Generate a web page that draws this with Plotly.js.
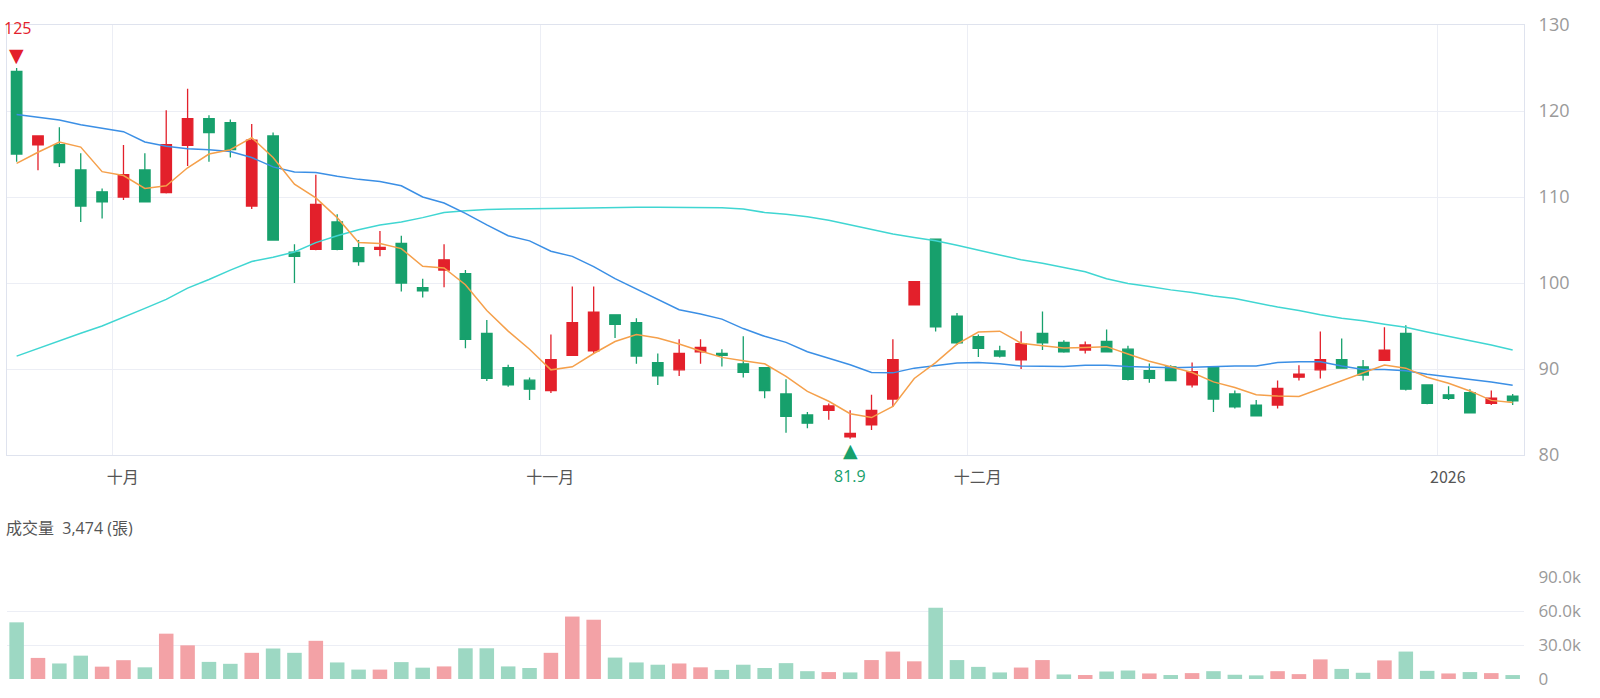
<!DOCTYPE html>
<html>
<head>
<meta charset="utf-8">
<script src="https://cdn.plot.ly/plotly-3.0.1.min.js"></script>
<style>
html,body{margin:0;padding:0;background:#ffffff;}
#chart{width:1600px;height:698px;}
</style>
</head>
<body>
<div id="chart"></div>
<script>
// ---- trading days (categories) ----
const dates = [
 '2025-09-23','2025-09-24','2025-09-25','2025-09-26','2025-09-30',
 '2025-10-01','2025-10-02','2025-10-03','2025-10-07','2025-10-08','2025-10-09','2025-10-13','2025-10-14','2025-10-15','2025-10-16',
 '2025-10-17','2025-10-20','2025-10-21','2025-10-22','2025-10-23','2025-10-27','2025-10-28','2025-10-29','2025-10-30','2025-10-31',
 '2025-11-03','2025-11-04','2025-11-05','2025-11-06','2025-11-07','2025-11-10','2025-11-11','2025-11-12','2025-11-13','2025-11-14',
 '2025-11-17','2025-11-18','2025-11-19','2025-11-20','2025-11-21','2025-11-24','2025-11-25','2025-11-26','2025-11-27','2025-11-28',
 '2025-12-01','2025-12-02','2025-12-03','2025-12-04','2025-12-05','2025-12-08','2025-12-09','2025-12-10','2025-12-11','2025-12-12',
 '2025-12-15','2025-12-16','2025-12-17','2025-12-18','2025-12-19','2025-12-22','2025-12-23','2025-12-24','2025-12-26','2025-12-29',
 '2025-12-30','2025-12-31','2026-01-02','2026-01-05','2026-01-06','2026-01-07'
];

// ---- OHLC ----
const open = [124.6,116.05,116.1,113.15,110.6,110.0,113.15,110.5,116.0,119.1,
 118.65,108.95,117.1,103.6,103.9,107.1,104.1,103.9,104.6,99.45,
 101.5,101.1,94.15,90.15,88.7,87.5,91.6,92.1,96.3,95.4,
 90.75,89.9,92.0,91.8,90.6,90.15,87.1,84.65,85.2,82.1,
 83.5,86.5,97.45,105.1,96.15,93.75,92.1,91.05,94.15,93.1,
 92.2,93.2,92.3,89.8,90.25,88.15,90.25,87.1,85.8,85.8,
 89.05,89.9,91.1,90.25,91.0,94.15,88.15,87.0,87.25,86.0,86.85];
const high = [125.0,117.1,118.1,115.1,111.0,116.05,115.1,120.1,122.6,119.5,
 119.0,118.5,117.5,104.5,112.6,108.0,105.0,106.05,105.5,100.5,
 104.5,101.5,95.7,90.5,89.0,94.0,99.6,99.6,96.3,95.9,
 91.8,93.45,93.45,92.3,93.8,90.2,88.8,85.0,86.0,85.2,
 87.0,93.45,100.15,105.1,96.5,94.0,92.7,94.4,96.7,93.35,
 93.2,94.6,92.7,90.65,90.45,90.75,90.3,87.5,86.4,88.65,
 90.45,94.35,93.55,91.05,94.85,95.1,88.15,88.0,87.65,87.5,87.1];
const low = [114.1,113.1,113.5,107.1,107.5,109.65,109.4,110.4,113.6,114.1,
 114.6,108.6,105.0,100.0,103.8,103.8,102.0,103.1,99.0,98.3,
 99.5,92.4,88.6,87.95,86.4,87.2,91.6,91.8,93.6,90.6,
 88.15,89.2,90.6,90.3,89.0,86.6,82.6,83.1,84.1,81.9,
 82.9,85.6,97.45,94.35,92.8,91.4,91.35,90.0,92.2,91.9,
 91.8,92.0,88.65,88.4,88.6,87.85,85.0,85.4,84.5,85.4,
 88.65,88.9,90.05,88.65,90.95,87.5,85.9,86.4,84.9,85.8,85.8];
const close = [115.0,117.1,114.0,108.95,109.45,112.6,109.45,116.1,119.1,117.5,
 115.5,116.6,105.0,103.1,109.15,103.9,102.5,104.15,100.0,99.1,
 102.7,93.45,88.9,88.15,87.65,91.1,95.4,96.6,95.2,91.5,
 89.2,91.8,92.5,91.6,89.6,87.5,84.5,83.7,85.7,82.5,
 85.2,91.1,100.15,94.9,93.05,92.4,91.5,92.95,93.05,92.0,
 92.8,92.0,88.8,88.9,88.65,89.7,86.5,85.6,84.55,87.75,
 89.4,91.1,90.1,89.3,92.2,87.65,86.0,86.6,84.9,86.6,86.3];

// ---- moving averages ----
const ma5 = [113.9,115.2,116.4,115.8,112.95,112.5,111.0,111.3,113.4,115.0,
 115.5,116.9,114.6,111.5,109.9,107.6,104.7,104.6,104.0,101.95,
 101.75,99.8,96.8,94.4,92.3,89.9,90.25,91.8,93.2,94.0,
 93.6,92.9,92.1,91.35,90.95,90.6,89.15,87.4,86.25,84.8,
 84.35,85.65,88.9,90.75,92.9,94.3,94.4,93.0,92.7,92.45,
 92.5,92.6,91.75,90.9,90.25,89.6,88.5,87.85,87.0,86.85,
 86.8,87.7,88.6,89.55,90.45,90.1,89.05,88.35,87.45,86.35,86.1];
const ma20 = [119.6,119.25,118.95,118.4,118.0,117.6,116.4,115.9,115.6,115.5,
 115.3,114.6,113.5,112.9,112.85,112.4,112.05,111.8,111.3,110.0,
 109.3,108.1,106.75,105.5,104.9,103.7,103.1,101.9,100.5,99.3,
 98.1,96.9,96.4,95.8,94.7,93.8,93.1,92.0,91.25,90.5,
 89.6,89.55,90.1,90.4,90.7,90.75,90.6,90.35,90.3,90.3,
 90.45,90.45,90.3,90.2,90.15,90.2,90.3,90.35,90.35,90.75,
 90.85,90.85,90.35,89.95,89.95,89.8,89.4,89.1,88.8,88.5,88.1];
const ma60 = [91.5,92.4,93.3,94.15,95.0,96.0,97.05,98.1,99.4,100.4,
 101.5,102.5,103.0,103.6,104.7,105.5,106.2,106.75,107.1,107.6,
 108.2,108.4,108.55,108.6,108.6,108.65,108.7,108.75,108.8,108.8,
 108.8,108.8,108.8,108.75,108.6,108.2,108.0,107.7,107.3,106.75,
 106.2,105.7,105.3,104.9,104.4,103.8,103.25,102.7,102.3,101.8,
 101.3,100.5,99.95,99.6,99.2,98.9,98.5,98.2,97.7,97.2,
 96.8,96.3,95.9,95.6,95.2,94.85,94.3,93.8,93.3,92.8,92.2];

// ---- volume (張) ----
const volume = [50000,18600,13700,20600,10900,16600,10300,40000,29700,15100,
 13400,23100,26900,23100,33700,14600,8300,8300,14900,10000,
 11100,27100,27100,11100,9700,23100,55100,52300,18900,14600,
 12600,13700,10300,8000,12600,9700,14000,6900,6100,5800,
 16700,24200,15600,62900,16700,10700,5800,10100,16700,4000,
 3500,6600,7500,4900,3500,5200,6900,3750,3200,6900,
 4300,17300,8900,5500,16400,24200,7200,4900,6100,5200,3474];

// ---- axis labels ----
const monthFirstDays = ['2025-10-01','2025-11-03','2025-12-01','2026-01-02'];
const monthTickText = ['十月','十一月','十二月','2026'];
const priceTicks = [80,90,100,110,120,130];
const volTicks = [0,30000,60000,90000];
const volTickText = ['0','30.0k','60.0k','90.0k'];
const volTitle = '成交量';
const volUnit = '張';

// ---- colours ----
const RED = '#e3202b', GREEN = '#17a06c';
const RED_L = '#f3a2a6', GREEN_L = '#9dd8c3';

const volColors = close.map((c, i) => {
  const ref = i === 0 ? open[0] : close[i - 1];
  return c >= ref ? RED_L : GREEN_L;
});

// month boundaries sit between the last day of one month and the first of the next
const monthBoundaries = monthFirstDays.map(d => dates.indexOf(d) - 0.5);

const traces = [
  {type:'candlestick', x:dates, open:open, high:high, low:low, close:close,
   xaxis:'x', yaxis:'y', hoverinfo:'skip',
   increasing:{line:{color:RED, width:1.3}, fillcolor:RED},
   decreasing:{line:{color:GREEN, width:1.3}, fillcolor:GREEN},
   whiskerwidth:0},
  {type:'scatter', mode:'lines', x:dates, y:ma60, xaxis:'x', yaxis:'y',
   line:{color:'#40d6d2', width:1.5}, hoverinfo:'skip'},
  {type:'scatter', mode:'lines', x:dates, y:ma20, xaxis:'x', yaxis:'y',
   line:{color:'#3b8fe5', width:1.5}, hoverinfo:'skip'},
  {type:'scatter', mode:'lines', x:dates, y:ma5, xaxis:'x', yaxis:'y',
   line:{color:'#f5a04b', width:1.5}, hoverinfo:'skip'},
  {type:'bar', x:dates, y:volume, xaxis:'x2', yaxis:'y2',
   marker:{color:volColors, line:{width:0}}, hoverinfo:'skip'}
];

// extreme markers
let iMax = 0, iMin = 0;
high.forEach((h, i) => { if (h > high[iMax]) iMax = i; });
low.forEach((l, i) => { if (l < low[iMin]) iMin = i; });

const H = 698, T = 25, B = 19;
const plotH = H - T - B;
const pyFromPx = px => (H - B - px) / plotH;

const annotations = [
  {x:dates[iMax], y:high[iMax], xref:'x', yref:'y', text:String(high[iMax]),
   showarrow:false, yanchor:'middle', yshift:40, xshift:1,
   font:{size:16, color:RED}},
  {x:dates[iMax], y:high[iMax], xref:'x', yref:'y', text:'▼',
   showarrow:false, yanchor:'middle', yshift:13,
   font:{size:19, color:RED, family:'DejaVu Sans'}},
  {x:dates[iMin], y:low[iMin], xref:'x', yref:'y', text:'▲',
   showarrow:false, yanchor:'middle', yshift:-11,
   font:{size:19, color:GREEN, family:'DejaVu Sans'}},
  {x:dates[iMin], y:low[iMin], xref:'x', yref:'y', text:String(low[iMin]),
   showarrow:false, yanchor:'middle', yshift:-37,
   font:{size:16, color:GREEN}},
  {xref:'paper', yref:'paper', x:0, y:pyFromPx(528), xanchor:'left', yanchor:'middle',
   xshift:-3, showarrow:false,
   text: volTitle + '&nbsp;&nbsp;' + volume[volume.length - 1].toLocaleString('en-US') + ' (' + volUnit + ')',
   font:{size:16, color:'#555555'}}
];

const gridC = '#eceef5', lineC = '#dfe3ee';

const layout = {
  width:1600, height:698,
  margin:{l:7, r:76, t:T, b:B},
  paper_bgcolor:'#ffffff', plot_bgcolor:'#ffffff',
  showlegend:false,
  hovermode:false,
  dragmode:false,
  bargap:0.32,
  font:{family:'"Open Sans","Noto Sans CJK TC",sans-serif', size:16, color:'#555555'},
  xaxis:{type:'category', domain:[0,1], anchor:'y', range:[-0.45,70.53],
    rangeslider:{visible:false},
    tickmode:'array', tickvals:monthBoundaries, ticktext:monthTickText,
    ticklabelshift:10,
    showgrid:true, gridcolor:gridC, gridwidth:1,
    showline:true, mirror:true, linecolor:lineC, linewidth:1,
    ticks:'outside', ticklen:8, tickcolor:'rgba(0,0,0,0)',
    tickfont:{size:16, color:'#555555', family:'"Noto Sans CJK TC","Open Sans",sans-serif'},
    fixedrange:true},
  yaxis:{domain:[pyFromPx(455), 1], anchor:'x', range:[80,130],
    tickmode:'array', tickvals:priceTicks, side:'right',
    showgrid:true, gridcolor:gridC, zeroline:false,
    showline:true, mirror:true, linecolor:lineC,
    ticks:'outside', ticklen:10, tickcolor:'rgba(0,0,0,0)',
    tickfont:{size:18, color:'#9a9a9a'}, fixedrange:true},
  xaxis2:{type:'category', domain:[0,1], anchor:'y2', matches:'x', range:[-0.45,70.53],
    showticklabels:false, showgrid:false, showline:false, ticks:'', fixedrange:true},
  yaxis2:{domain:[0, pyFromPx(577)], anchor:'x2', range:[0,90000],
    tickmode:'array', tickvals:volTicks, ticktext:volTickText, side:'right',
    showgrid:true, gridcolor:gridC, zeroline:false, showline:false,
    ticks:'outside', ticklen:10, tickcolor:'rgba(0,0,0,0)',
    tickfont:{size:17, color:'#9a9a9a'}, fixedrange:true},
  annotations:annotations
};

Plotly.newPlot('chart', traces, layout, {displayModeBar:false, staticPlot:true});
</script>
</body>
</html>
